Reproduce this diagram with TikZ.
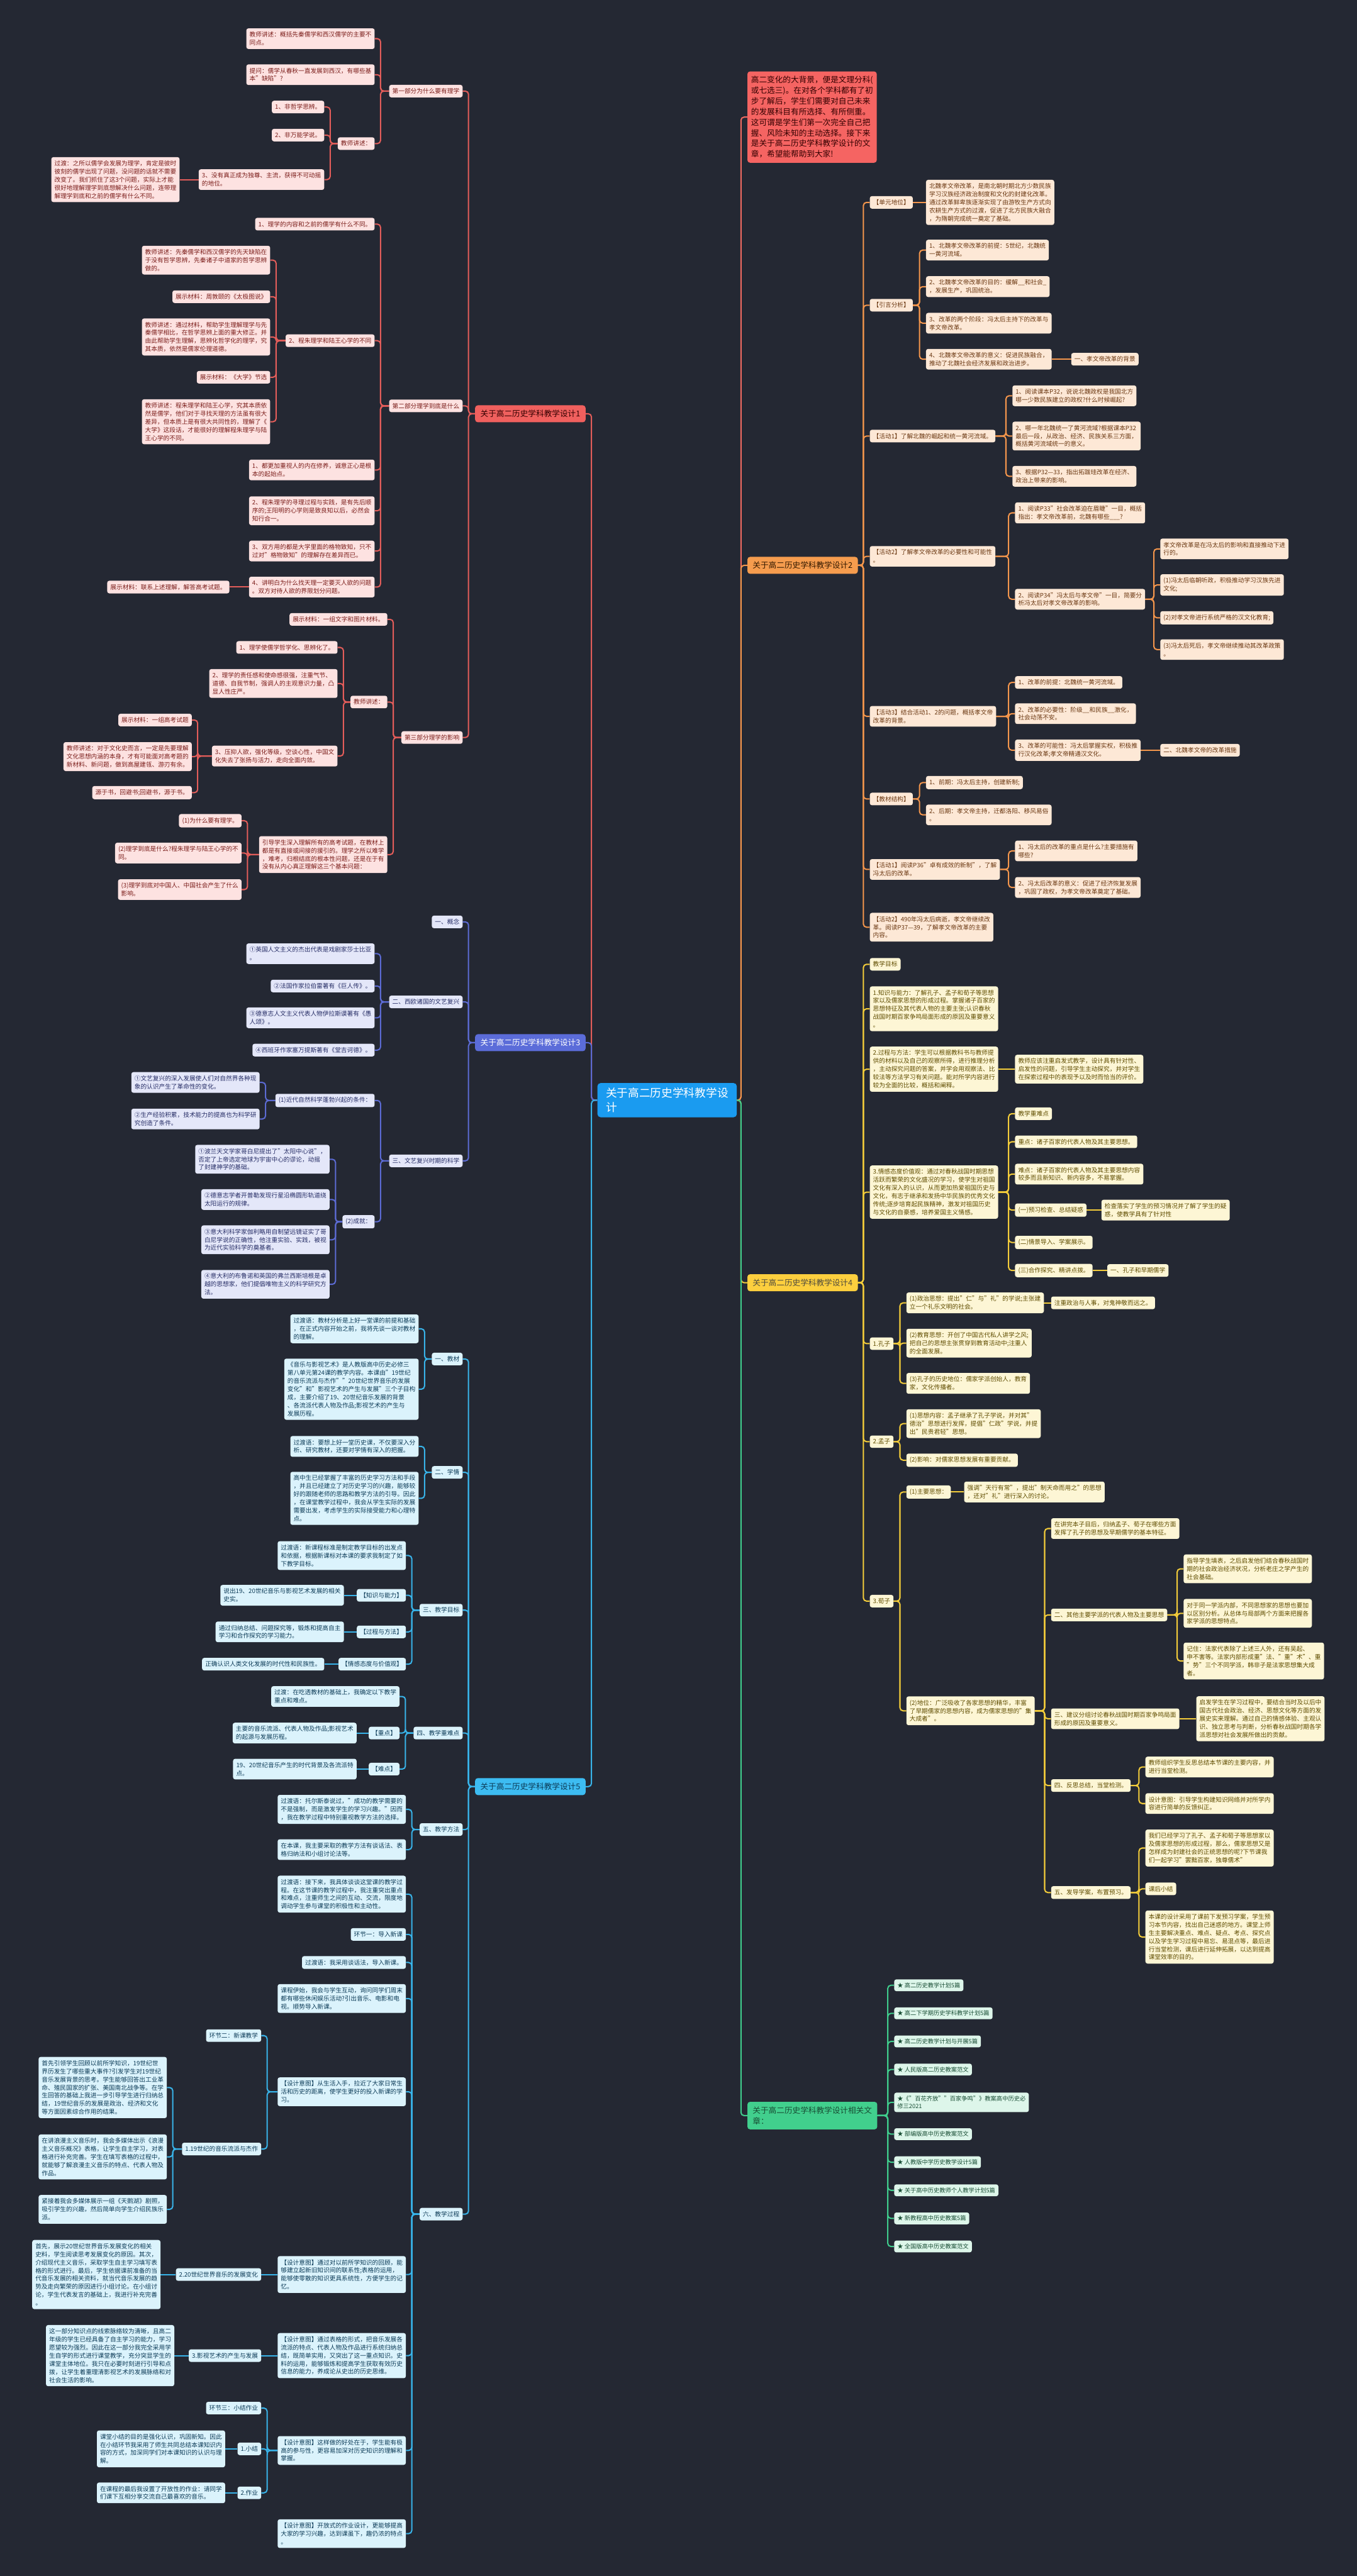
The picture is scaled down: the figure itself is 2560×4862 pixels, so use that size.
\documentclass[tikz,border=0pt]{standalone}
\usepackage{fontspec}
\setmainfont{Noto Sans CJK SC}
\usetikzlibrary{backgrounds}
\definecolor{bgc}{HTML}{242833}
\definecolor{rF}{HTML}{FDE2E1}\definecolor{rT}{HTML}{7B1D1A}\definecolor{rC}{HTML}{E35D5A}\definecolor{rM}{HTML}{F0605E}
\definecolor{pF}{HTML}{E4E7F9}\definecolor{pT}{HTML}{262D66}\definecolor{pC}{HTML}{5C6BD4}\definecolor{pM}{HTML}{5B6CD9}
\definecolor{bF}{HTML}{DBF3FC}\definecolor{bT}{HTML}{0C3B57}\definecolor{bC}{HTML}{38B4EA}\definecolor{bM}{HTML}{3DBCF2}
\definecolor{oF}{HTML}{FDE8D6}\definecolor{oT}{HTML}{6B3812}\definecolor{oC}{HTML}{F4964C}\definecolor{oM}{HTML}{F59C4E}
\definecolor{yF}{HTML}{FDF6D5}\definecolor{yT}{HTML}{5F4C00}\definecolor{yC}{HTML}{F4CD3A}\definecolor{yM}{HTML}{FCCF3E}
\definecolor{gF}{HTML}{DDF6EA}\definecolor{gT}{HTML}{184D34}\definecolor{gC}{HTML}{3FCC8C}\definecolor{gM}{HTML}{41CF8D}
\definecolor{iF}{HTML}{F56462}\definecolor{iC}{HTML}{EE6A62}
\definecolor{cF}{HTML}{1A9BF0}
\tikzset{
 bx/.style={rounded corners=4pt, inner xsep=6pt, inner ysep=6.5pt, align=left, font=\fontsize{11.5}{15.3}\selectfont},
 rb/.style={bx, fill=rF, text=rT},
 pb/.style={bx, fill=pF, text=pT},
 bb/.style={bx, fill=bF, text=bT},
 ob/.style={bx, fill=oF, text=oT},
 yb/.style={bx, fill=yF, text=yT},
 gb/.style={bx, fill=gF, text=gT, font=\fontsize{11}{14.5}\selectfont, inner ysep=6pt},
 mn/.style={rounded corners=5pt, inner xsep=10pt, inner ysep=9pt, align=left, font=\fontsize{15}{20}\selectfont},
 cen/.style={rounded corners=6pt, inner xsep=16pt, inner ysep=9pt, align=left, font=\fontsize{21}{27}\selectfont, fill=cF, text=white},
 ea/.style={anchor=east}, we/.style={anchor=west},
 cn/.style={line width=2.4pt, rounded corners=6pt},
 cr/.style={cn, draw=rC}, cp/.style={cn, draw=pC}, cb/.style={cn, draw=bC},
 co/.style={cn, draw=oC}, cy/.style={cn, draw=yC}, cg/.style={cn, draw=gC}, ci/.style={cn, draw=iC},
}
\newcommand\edL[3]{\draw[#1] (#3.east) -- ++(11,0) |- (#2.west);}
\newcommand\edR[3]{\draw[#1] (#3.west) -- ++(-12,0) |- (#2.east);}
\newcommand\edS[3]{\draw[#1] (#2) -- (#3);}
\begin{document}
\begin{tikzpicture}[x=1pt,y=-1pt]
\useasboundingbox (0,0) rectangle (2560,4862);
% center
\node[cen, anchor=north west] (C) at (1127,2044) {关于高二历史学科教学设\\计};
% main nodes
\node[mn, ea, fill=rM, text=black!80!red] (R0) at (1105,781) {关于高二历史学科教学设计1};
\node[mn, ea, fill=pM, text=white] (P0) at (1105,1968) {关于高二历史学科教学设计3};
\node[mn, ea, fill=bM, text=bT] (B0) at (1105,3372) {关于高二历史学科教学设计5};
\node[mn, we, fill=iF, text=black!80!red, inner xsep=7pt] (I0) at (1410,221) {高二变化的大背景，便是文理分科(\\或七选三)。在对各个学科都有了初\\步了解后，学生们需要对自己未来\\的发展科目有所选择、有所侧重。\\这可谓是学生们第一次完全自己把\\握、风险未知的主动选择。接下来\\是关于高二历史学科教学设计的文\\章，希望能帮助到大家!};
\node[mn, we, fill=oM, text=black!80!orange] (O0) at (1410,1067) {关于高二历史学科教学设计2};
\node[mn, we, fill=yM, text=black!80!yellow] (Y0) at (1410,2421) {关于高二历史学科教学设计4};
\node[mn, we, fill=gM, text=gT] (G0) at (1410,3993) {关于高二历史学科教学设计相关文\\章：};
% ===== red branch =====
\node[rb, ea] (R1) at (873,172) {第一部分为什么要有理学};
\node[rb, ea] (R2) at (873,766) {第二部分理学到底是什么};
\node[rb, ea] (R3) at (873,1392) {第三部分理学的影响};
\node[rb, ea] (R11) at (707,73) {教师讲述：概括先秦儒学和西汉儒学的主要不\\同点。};
\node[rb, ea] (R12) at (707,141) {提问：儒学从春秋一直发展到西汉，有哪些基\\本"缺陷"?};
\node[rb, ea] (R13) at (707,271) {教师讲述：};
\node[rb, ea] (R131) at (612,202) {1、非哲学思辨。};
\node[rb, ea] (R132) at (612,255) {2、非万能学说。};
\node[rb, ea] (R133) at (612,339) {3、没有真正成为独尊、主流，获得不可动摇\\的地位。};
\node[rb, ea] (R1331) at (339,339) {过渡：之所以儒学会发展为理学，肯定是彼时\\彼刻的儒学出现了问题，没问题的话就不需要\\改变了。我们抓住了这3个问题，实际上才能\\很好地理解理学到底想解决什么问题，连带理\\解理学到底和之前的儒学有什么不同。};
\node[rb, ea] (R21) at (707,423) {1、理学的内容和之前的儒学有什么不同。};
\node[rb, ea] (R22) at (707,643) {2、程朱理学和陆王心学的不同};
\node[rb, ea] (R221) at (510,491) {教师讲述：先秦儒学和西汉儒学的先天缺陷在\\于没有哲学思辨，先秦诸子中道家的哲学思辨\\做的。};
\node[rb, ea] (R222) at (510,560) {展示材料：周敦颐的《太极图说》};
\node[rb, ea] (R223) at (510,636) {教师讲述：通过材料，帮助学生理解理学与先\\秦儒学相比，在哲学思辨上面的重大修正。并\\由此帮助学生理解，思辨化哲学化的理学，究\\其本质，依然是儒家伦理道德。};
\node[rb, ea] (R224) at (510,712) {展示材料：《大学》节选};
\node[rb, ea] (R225) at (510,796) {教师讲述：程朱理学和陆王心学，究其本质依\\然是儒学，他们对于寻找天理的方法虽有很大\\差异，但本质上是有很大共同性的，理解了《\\大学》这段话，才能很好的理解程朱理学与陆\\王心学的不同。};
\node[rb, ea] (R23) at (707,887) {1、都更加重视人的内在修养，诚意正心是根\\本的起始点。};
\node[rb, ea] (R24) at (707,964) {2、程朱理学的寻理过程与实践，是有先后顺\\序的;王阳明的心学则是致良知以后，必然会\\知行合一。};
\node[rb, ea] (R25) at (707,1040) {3、双方用的都是大学里面的格物致知，只不\\过对"格物致知"的理解存在差异而已。};
\node[rb, ea] (R26) at (707,1108) {4、讲明白为什么找天理一定要灭人欲的问题\\。双方对待人欲的界限划分问题。};
\node[rb, ea] (R261) at (433,1108) {展示材料：联系上述理解，解答高考试题。};
\node[rb, ea] (R31) at (731,1169) {展示材料：一组文字和图片材料。};
\node[rb, ea] (R32) at (731,1325) {教师讲述：};
\node[rb, ea] (R321) at (637,1222) {1、理学使儒学哲学化、思辨化了。};
\node[rb, ea] (R322) at (637,1290) {2、理学的责任感和使命感很强，注重气节、\\道德、自我节制，强调人的主观意识力量，凸\\显人性庄严。};
\node[rb, ea] (R323) at (637,1427) {3、压抑人欲，强化等级，空谈心性，中国文\\化失去了张扬与活力，走向全面内敛。};
\node[rb, ea] (R3231) at (362,1359) {展示材料：一组高考试题};
\node[rb, ea] (R3232) at (362,1428) {教师讲述：对于文化史而言，一定是先要理解\\文化思想内涵的本身，才有可能面对高考题的\\新材料、新问题，做到高屋建瓴、游刃有余。};
\node[rb, ea] (R3233) at (362,1496) {源于书，回避书;回避书，源于书。};
\node[rb, ea] (R33) at (731,1613) {引导学生深入理解所有的高考试题，在教材上\\都是有直接或间接的援引的。理学之所以难学\\，难考，归根结底的根本性问题，还是在于有\\没有从内心真正理解这三个基本问题：};
\node[rb, ea] (R331) at (456,1549) {(1)为什么要有理学。};
\node[rb, ea] (R332) at (456,1610) {(2)理学到底是什么?程朱理学与陆王心学的不\\同。};
\node[rb, ea] (R333) at (456,1679) {(3)理学到底对中国人、中国社会产生了什么\\影响。};
% ===== purple branch =====
\node[pb, ea] (P1) at (873,1740) {一、概念};
\node[pb, ea] (P2) at (873,1891) {二、西欧诸国的文艺复兴};
\node[pb, ea] (P21) at (707,1800) {①英国人文主义的杰出代表是戏剧家莎士比亚\\。};
\node[pb, ea] (P22) at (707,1861) {②法国作家拉伯雷著有《巨人传》。};
\node[pb, ea] (P23) at (707,1921) {③德意志人文主义代表人物伊拉斯谟著有《愚\\人颂》。};
\node[pb, ea] (P24) at (707,1982) {④西班牙作家塞万提斯著有《堂吉诃德》。};
\node[pb, ea] (P3) at (873,2191) {三、文艺复兴时期的科学};
\node[pb, ea] (P31) at (707,2077) {(1)近代自然科学蓬勃兴起的条件：};
\node[pb, ea] (P311) at (490,2043) {①文艺复兴的深入发展使人们对自然界各种现\\象的认识产生了革命性的变化。};
\node[pb, ea] (P312) at (490,2112) {②生产经验积累，技术能力的提高也为科学研\\究创造了条件。};
\node[pb, ea] (P32) at (707,2306) {(2)成就：};
\node[pb, ea] (P321) at (622,2188) {①波兰天文学家哥白尼提出了"太阳中心说"，\\否定了上帝选定地球为宇宙中心的谬论，动摇\\了封建神学的基础。};
\node[pb, ea] (P322) at (622,2264) {②德意志学者开普勒发现行星沿椭圆形轨道绕\\太阳运行的规律。};
\node[pb, ea] (P323) at (622,2340) {③意大利科学家伽利略用自制望远镜证实了哥\\白尼学说的正确性，他注重实验、实践，被视\\为近代实验科学的奠基者。};
\node[pb, ea] (P324) at (622,2424) {④意大利的布鲁诺和英国的弗兰西斯培根是卓\\越的思想家，他们提倡唯物主义的科学研究方\\法。};
% ===== blue branch =====
\node[bb, ea] (B1) at (873,2565) {一、教材};
\node[bb, ea] (B11) at (790,2508) {过渡语：教材分析是上好一堂课的前提和基础\\，在正式内容开始之前，我将先谈一谈对教材\\的理解。};
\node[bb, ea] (B12) at (790,2622) {《音乐与影视艺术》是人教版高中历史必修三\\第八单元第24课的教学内容。本课由"19世纪\\的音乐流派与杰作""20世纪世界音乐的发展\\变化"和"影视艺术的产生与发展"三个子目构\\成，主要介绍了19、20世纪音乐发展的背景\\、各流派代表人物及作品;影视艺术的产生与\\发展历程。};
\node[bb, ea] (B2) at (873,2779) {二、学情};
\node[bb, ea] (B21) at (790,2730) {过渡语：要想上好一堂历史课，不仅要深入分\\析、研究教材，还要对学情有深入的把握。};
\node[bb, ea] (B22) at (790,2828) {高中生已经掌握了丰富的历史学习方法和手段\\，并且已经建立了对历史学习的兴趣，能够较\\好的跟随老师的思路和教学方法的引导。因此\\，在课堂教学过程中，我会从学生实际的发展\\需要出发，考虑学生的实际接受能力和心理特\\点。};
\node[bb, ea] (B3) at (873,3039) {三、教学目标};
\node[bb, ea] (B31) at (766,2936) {过渡语：新课程标准是制定教学目标的出发点\\和依据，根据新课标对本课的要求我制定了如\\下教学目标。};
\node[bb, ea] (B32) at (766,3011) {【知识与能力】};
\node[bb, ea] (B321) at (649,3011) {说出19、20世纪音乐与影视艺术发展的相关\\史实。};
\node[bb, ea] (B33) at (766,3080) {【过程与方法】};
\node[bb, ea] (B331) at (649,3080) {通过归纳总结、问题探究等，锻炼和提高自主\\学习和合作探究的学习能力。};
\node[bb, ea] (B34) at (766,3141) {【情感态度与价值观】};
\node[bb, ea] (B341) at (612,3141) {正确认识人类文化发展的时代性和民族性。};
\node[bb, ea] (B4) at (873,3271) {四、教学重难点};
\node[bb, ea] (B41) at (754,3202) {过渡：在吃透教材的基础上，我确定以下教学\\重点和难点。};
\node[bb, ea] (B42) at (754,3271) {【重点】};
\node[bb, ea] (B421) at (673,3271) {主要的音乐流派、代表人物及作品;影视艺术\\的起源与发展历程。};
\node[bb, ea] (B43) at (754,3339) {【难点】};
\node[bb, ea] (B431) at (673,3339) {19、20世纪音乐产生的时代背景及各流派特\\点。};
\node[bb, ea] (B5) at (873,3453) {五、教学方法};
\node[bb, ea] (B51) at (766,3415) {过渡语：托尔斯泰说过，"成功的教学需要的\\不是强制，而是激发学生的学习兴趣。"因而\\，我在教学过程中特别重视教学方法的选择。};
\node[bb, ea] (B52) at (766,3491) {在本课，我主要采取的教学方法有谈话法、表\\格归纳法和小组讨论法等。};
\node[bb, ea] (B6) at (873,4179) {六、教学过程};
\node[bb, ea] (B61) at (766,3575) {过渡语：接下来，我具体谈谈这堂课的教学过\\程。在这节课的教学过程中，我注重突出重点\\和难点，注重师生之间的互动、交流，限度地\\调动学生参与课堂的积极性和主动性。};
\node[bb, ea] (B62) at (766,3651) {环节一：导入新课};
\node[bb, ea] (B63) at (766,3704) {过渡语：我采用谈话法，导入新课。};
\node[bb, ea] (B64) at (766,3772) {课程伊始，我会与学生互动，询问同学们周末\\都有哪些休闲娱乐活动?引出音乐、电影和电\\视。顺势导入新课。};
\node[bb, ea] (B65) at (766,3948) {【设计意图】从生活入手，拉近了大家日常生\\活和历史的距离，使学生更好的投入新课的学\\习。};
\node[bb, ea] (B651) at (493,3842) {环节二：新课教学};
\node[bb, ea] (B652) at (493,4056) {1.19世纪的音乐流派与杰作};
\node[bb, ea] (B6521) at (315,3940) {首先引领学生回顾以前所学知识，19世纪世\\界历发生了哪些重大事件?引发学生对19世纪\\音乐发展背景的思考。学生能够回答出工业革\\命、殖民国家的扩张、美国南北战争等。在学\\生回答的基础上我进一步引导学生进行归纳总\\结，19世纪音乐的发展是政治、经济和文化\\等方面因素综合作用的结果。};
\node[bb, ea] (B6522) at (315,4071) {在讲浪漫主义音乐时，我会多媒体出示《浪漫\\主义音乐概况》表格，让学生自主学习，对表\\格进行补充完善。学生在填写表格的过程中，\\就能够了解浪漫主义音乐的特点、代表人物及\\作品。};
\node[bb, ea] (B6523) at (315,4170) {紧接着我会多媒体展示一组《天鹅湖》剧照，\\吸引学生的兴趣，然后简单向学生介绍民族乐\\派。};
\node[bb, ea] (B66) at (766,4293) {【设计意图】通过对以前所学知识的回顾，能\\够建立起新旧知识间的联系性;表格的运用，\\能够使零散的知识更具系统性，方便学生的记\\忆。};
\node[bb, ea] (B661) at (493,4293) {2.20世纪世界音乐的发展变化};
\node[bb, ea] (B6611) at (303,4293) {首先，展示20世纪世界音乐发展变化的相关\\史料，学生阅读思考发展变化的原因。其次，\\介绍现代主义音乐，采取学生自主学习填写表\\格的形式进行。最后，学生依据课前准备的当\\代音乐发展的相关资料，就当代音乐发展的趋\\势及走向繁荣的原因进行小组讨论。在小组讨\\论，学生代表发言的基础上，我进行补充完善\\。};
\node[bb, ea] (B67) at (766,4446) {【设计意图】通过表格的形式，把音乐发展各\\流派的特点、代表人物及作品进行系统归纳总\\结，既简单实用，又突出了这一重点知识。史\\料的运用，能够锻炼和提高学生获取有效历史\\信息的能力，养成论从史出的历史思维。};
\node[bb, ea] (B671) at (493,4446) {3.影视艺术的产生与发展};
\node[bb, ea] (B6711) at (329,4446) {这一部分知识点的线索脉络较为清晰，且高二\\年级的学生已经具备了自主学习的能力，学习\\愿望较为强烈。因此在这一部分我完全采用学\\生自学的形式进行课堂教学，充分突显学生的\\课堂主体地位。我只在必要时刻进行引导和点\\拨，让学生着重理清影视艺术的发展脉络和对\\社会生活的影响。};
\node[bb, ea] (B68) at (766,4625) {【设计意图】这样做的好处在于，学生能有极\\高的参与性，更容易加深对历史知识的理解和\\掌握。};
\node[bb, ea] (B681) at (493,4545) {环节三：小结作业};
\node[bb, ea] (B682) at (493,4622) {1.小结};
\node[bb, ea] (B6821) at (425,4622) {课堂小结的目的是强化认识，巩固新知。因此\\在小结环节我采用了师生共同总结本课知识内\\容的方式，加深同学们对本课知识的认识与理\\解。};
\node[bb, ea] (B683) at (493,4705) {2.作业};
\node[bb, ea] (B6831) at (425,4705) {在课程的最后我设置了开放性的作业：请同学\\们课下互相分享交流自己最喜欢的音乐。};
\node[bb, ea] (B69) at (766,4782) {【设计意图】开放式的作业设计，更能够提高\\大家的学习兴趣，达到课虽下，趣仍浓的特点\\。};
% ===== orange branch =====
\node[ob, we] (O1) at (1641,382) {【单元地位】};
\node[ob, we] (O11) at (1747,382) {北魏孝文帝改革，是南北朝时期北方少数民族\\学习汉族经济政治制度和文化的封建化改革。\\通过改革鲜卑族逐渐实现了由游牧生产方式向\\农耕生产方式的过渡，促进了北方民族大融合\\，为隋朝完成统一奠定了基础。};
\node[ob, we] (O2) at (1641,576) {【引言分析】};
\node[ob, we] (O21) at (1747,472) {1、北魏孝文帝改革的前提：5世纪，北魏统\\一黄河流域。};
\node[ob, we] (O22) at (1747,541) {2、北魏孝文帝改革的目的：缓解\_\_和社会\_\\，发展生产，巩固统治。};
\node[ob, we] (O23) at (1747,610) {3、改革的两个阶段：冯太后主持下的改革与\\孝文帝改革。};
\node[ob, we] (O24) at (1747,678) {4、北魏孝文帝改革的意义：促进民族融合，\\推动了北魏社会经济发展和政治进步。};
\node[ob, we] (O241) at (2021,678) {一、孝文帝改革的背景};
\node[ob, we] (O3) at (1641,823) {【活动1】了解北魏的崛起和统一黄河流域。};
\node[ob, we] (O31) at (1910,747) {1、阅读课本P32，说说北魏政权是我国北方\\哪一少数民族建立的政权?什么时候崛起?};
\node[ob, we] (O32) at (1910,823) {2、哪一年北魏统一了黄河流域?根据课本P32\\最后一段，从政治、经济、民族关系三方面，\\概括黄河流域统一的意义。};
\node[ob, we] (O33) at (1910,899) {3、根据P32—33，指出拓跋珪改革在经济、\\政治上带来的影响。};
\node[ob, we] (O4) at (1641,1050) {【活动2】了解孝文帝改革的必要性和可能性\\。};
\node[ob, we] (O41) at (1915,968) {1、阅读P33"社会改革迫在眉睫"一目，概括\\指出：孝文帝改革前，北魏有哪些\_\_\_?};
\node[ob, we] (O42) at (1915,1131) {2、阅读P34"冯太后与孝文帝"一目，简要分\\析冯太后对孝文帝改革的影响。};
\node[ob, we] (O421) at (2189,1036) {孝文帝改革是在冯太后的影响和直接推动下进\\行的。};
\node[ob, we] (O422) at (2189,1104) {(1)冯太后临朝听政，积极推动学习汉族先进\\文化;};
\node[ob, we] (O423) at (2189,1166) {(2)对孝文帝进行系统严格的汉文化教育;};
\node[ob, we] (O424) at (2189,1226) {(3)冯太后死后，孝文帝继续推动其改革政策\\。};
\node[ob, we] (O5) at (1641,1352) {【活动3】结合活动1、2的问题，概括孝文帝\\改革的背景。};
\node[ob, we] (O51) at (1915,1288) {1、改革的前提：北魏统一黄河流域。};
\node[ob, we] (O52) at (1915,1347) {2、改革的必要性：阶级\_\_和民族\_\_激化，\\社会动荡不安。};
\node[ob, we] (O53) at (1915,1416) {3、改革的可能性：冯太后掌握实权，积极推\\行汉化改革;孝文帝精通汉文化。};
\node[ob, we] (O531) at (2189,1416) {二、北魏孝文帝的改革措施};
\node[ob, we] (O6) at (1641,1508) {【教材结构】};
\node[ob, we] (O61) at (1747,1477) {1、前期：冯太后主持，创建新制;};
\node[ob, we] (O62) at (1747,1538) {2、后期：孝文帝主持，迁都洛阳、移风易俗\\。};
\node[ob, we] (O7) at (1641,1641) {【活动1】阅读P36"卓有成效的新制"，了解\\冯太后的改革。};
\node[ob, we] (O71) at (1915,1606) {1、冯太后的改革的重点是什么?主要措施有\\哪些?};
\node[ob, we] (O72) at (1915,1675) {2、冯太后改革的意义：促进了经济恢复发展\\，巩固了政权，为孝文帝改革奠定了基础。};
\node[ob, we] (O8) at (1641,1750) {【活动2】490年冯太后病逝，孝文帝继续改\\革。阅读P37—39，了解孝文帝改革的主要\\内容。};
% ===== yellow branch =====
\node[yb, we] (Y1) at (1641,1820) {教学目标};
\node[yb, we] (Y2) at (1641,1904) {1.知识与能力：了解孔子、孟子和荀子等思想\\家以及儒家思想的形成过程。掌握诸子百家的\\思想特征及其代表人物的主要主张;认识春秋\\战国时期百家争鸣局面形成的原因及重要意义\\。};
\node[yb, we] (Y3) at (1641,2018) {2.过程与方法：学生可以根据教科书与教师提\\供的材料以及自己的观察所得，进行推理分析\\，主动探究问题的答案，并学会用观察法、比\\较法等方法学习有关问题。能对所学内容进行\\较为全面的比较，概括和阐释。};
\node[yb, we] (Y31) at (1915,2018) {教师应该注重启发式教学，设计具有针对性、\\启发性的问题，引导学生主动探究，并对学生\\在探索过程中的表现予以及时而恰当的评价。};
\node[yb, we] (Y4) at (1641,2250) {3.情感态度价值观：通过对春秋战国时期思想\\活跃而繁荣的文化盛况的学习，使学生对祖国\\文化有深入的认识，从而更加热爱祖国历史与\\文化，有志于继承和发扬中华民族的优秀文化\\传统;逐步培育起民族精神，激发对祖国历史\\与文化的自豪感，培养爱国主义情感。};
\node[yb, we] (Y41) at (1915,2102) {教学重难点};
\node[yb, we] (Y42) at (1915,2155) {重点：诸子百家的代表人物及其主要思想。};
\node[yb, we] (Y43) at (1915,2216) {难点：诸子百家的代表人物及其主要思想内容\\较多而且新知识、新内容多，不易掌握。};
\node[yb, we] (Y44) at (1915,2284) {(一)预习检查、总结疑惑};
\node[yb, we] (Y441) at (2078,2284) {检查落实了学生的预习情况并了解了学生的疑\\惑，使教学具有了针对性};
\node[yb, we] (Y45) at (1915,2345) {(二)情景导入、学案展示。};
\node[yb, we] (Y46) at (1915,2398) {(三)合作探究、精讲点拨。};
\node[yb, we] (Y461) at (2089,2398) {一、孔子和早期儒学};
\node[yb, we] (Y5) at (1641,2536) {1.孔子};
\node[yb, we] (Y51) at (1710,2459) {(1)政治思想：提出"仁"与"礼"的学说;主张建\\立一个礼乐文明的社会。};
\node[yb, we] (Y511) at (1983,2459) {注重政治与人事，对鬼神敬而远之。};
\node[yb, we] (Y52) at (1710,2535) {(2)教育思想：开创了中国古代私人讲学之风;\\把自己的思想主张贯穿到教育活动中;注重人\\的全面发展。};
\node[yb, we] (Y53) at (1710,2611) {(3)孔子的历史地位：儒家学派创始人，教育\\家，文化传播者。};
\node[yb, we] (Y6) at (1641,2721) {2.孟子};
\node[yb, we] (Y61) at (1710,2687) {(1)思想内容：孟子继承了孔子学说，并对其"\\德治"思想进行发挥，提倡"仁政"学说，并提\\出"民贵君轻"思想。};
\node[yb, we] (Y62) at (1710,2756) {(2)影响：对儒家思想发展有重要贡献。};
\node[yb, we] (Y7) at (1641,3022) {3.荀子};
\node[yb, we] (Y71) at (1710,2816) {(1)主要思想：};
\node[yb, we] (Y711) at (1819,2816) {强调"天行有常"，提出"制天命而用之"的思想\\，还对"礼"进行深入的讨论。};
\node[yb, we] (Y72) at (1710,3229) {(2)地位：广泛吸收了各家思想的精华，丰富\\了早期儒家的思想内容，成为儒家思想的"集\\大成者"。};
\node[yb, we] (Y721) at (1983,2885) {在讲完本子目后，归纳孟子、荀子在哪些方面\\发挥了孔子的思想及早期儒学的基本特征。};
\node[yb, we] (Y722) at (1983,3048) {二、其他主要学派的代表人物及主要思想};
\node[yb, we] (Y7221) at (2233,2961) {指导学生填表，之后启发他们结合春秋战国时\\期的社会政治经济状况，分析老庄之学产生的\\社会基础。};
\node[yb, we] (Y7222) at (2233,3045) {对于同一学派内部，不同思想家的思想也要加\\以区别分析。从总体与局部两个方面来把握各\\家学派的思想特点。};
\node[yb, we] (Y7223) at (2233,3135) {记住：法家代表除了上述三人外，还有吴起、\\申不害等。法家内部形成重"法、"重"术"、重\\"势"三个不同学派，韩非子是法家思想集大成\\者。};
\node[yb, we] (Y723) at (1983,3244) {三、建议分组讨论春秋战国时期百家争鸣局面\\形成的原因及重要意义。};
\node[yb, we] (Y7231) at (2257,3244) {启发学生在学习过程中，要结合当时及以后中\\国古代社会政治、经济、思想文化等方面的发\\展史实来理解。通过自己的情感体验、主观认\\识、独立思考与判断，分析春秋战国时期各学\\派思想对社会发展所做出的贡献。};
\node[yb, we] (Y724) at (1983,3370) {四、反思总结，当堂检测。};
\node[yb, we] (Y7241) at (2161,3335) {教师组织学生反思总结本节课的主要内容，并\\进行当堂检测。};
\node[yb, we] (Y7242) at (2161,3404) {设计意图：引导学生构建知识网络并对所学内\\容进行简单的反馈纠正。};
\node[yb, we] (Y725) at (1983,3572) {五、发导学案，布置预习。};
\node[yb, we] (Y7251) at (2161,3488) {我们已经学习了孔子、孟子和荀子等思想家以\\及儒家思想的形成过程，那么，儒家思想又是\\怎样成为封建社会的正统思想的呢?下节课我\\们一起学习"罢黜百家，独尊儒术"};
\node[yb, we] (Y7252) at (2161,3565) {课后小结};
\node[yb, we] (Y7253) at (2161,3656) {本课的设计采用了课前下发预习学案，学生预\\习本节内容，找出自己迷惑的地方。课堂上师\\生主要解决重点、难点、疑点、考点、探究点\\以及学生学习过程中易忘、易混点等，最后进\\行当堂检测，课后进行延伸拓展，以达到提高\\课堂效率的目的。};
% ===== green branch =====
\node[gb, we] (G1) at (1687,3747) {★ 高二历史教学计划5篇};
\node[gb, we] (G2) at (1687,3800) {★ 高二下学期历史学科教学计划5篇};
\node[gb, we] (G3) at (1687,3853) {★ 高二历史教学计划与开展5篇};
\node[gb, we] (G4) at (1687,3906) {★ 人民版高二历史教案范文};
\node[gb, we] (G5) at (1687,3968) {★《"百花齐放""百家争鸣"》教案高中历史必\\修三2021};
\node[gb, we] (G6) at (1687,4028) {★ 部编版高中历史教案范文};
\node[gb, we] (G7) at (1687,4081) {★ 人教版中学历史教学设计5篇};
\node[gb, we] (G8) at (1687,4134) {★ 关于高中历史教师个人教学计划5篇};
\node[gb, we] (G9) at (1687,4187) {★ 新教程高中历史教案5篇};
\node[gb, we] (G10) at (1687,4240) {★ 全国版高中历史教案范文};
% ===== connectors =====
\begin{scope}[on background layer]
\fill[bgc] (0,0) rectangle (2560,4862);
\edL{cr}{C}{R0}\edL{cp}{C}{P0}\edL{cb}{C}{B0}
\edR{ci}{C}{I0}\edR{co}{C}{O0}\edR{cy}{C}{Y0}\edR{cg}{C}{G0}
% red
\edL{cr}{R0}{R1}\edL{cr}{R0}{R2}\edL{cr}{R0}{R3}
\edL{cr}{R1}{R11}\edL{cr}{R1}{R12}\edL{cr}{R1}{R13}
\edL{cr}{R13}{R131}\edL{cr}{R13}{R132}\edL{cr}{R13}{R133}
\edS{cr}{R133}{R1331}
\edL{cr}{R2}{R21}\edL{cr}{R2}{R22}\edL{cr}{R2}{R23}\edL{cr}{R2}{R24}\edL{cr}{R2}{R25}\edL{cr}{R2}{R26}
\edL{cr}{R22}{R221}\edL{cr}{R22}{R222}\edL{cr}{R22}{R223}\edL{cr}{R22}{R224}\edL{cr}{R22}{R225}
\edS{cr}{R26}{R261}
\edL{cr}{R3}{R31}\edL{cr}{R3}{R32}\edL{cr}{R3}{R33}
\edL{cr}{R32}{R321}\edL{cr}{R32}{R322}\edL{cr}{R32}{R323}
\edL{cr}{R323}{R3231}\edL{cr}{R323}{R3232}\edL{cr}{R323}{R3233}
\edL{cr}{R33}{R331}\edL{cr}{R33}{R332}\edL{cr}{R33}{R333}
% purple
\edL{cp}{P0}{P1}\edL{cp}{P0}{P2}\edL{cp}{P0}{P3}
\edL{cp}{P2}{P21}\edL{cp}{P2}{P22}\edL{cp}{P2}{P23}\edL{cp}{P2}{P24}
\edL{cp}{P3}{P31}\edL{cp}{P3}{P32}
\edL{cp}{P31}{P311}\edL{cp}{P31}{P312}
\edL{cp}{P32}{P321}\edL{cp}{P32}{P322}\edL{cp}{P32}{P323}\edL{cp}{P32}{P324}
% blue
\edL{cb}{B0}{B1}\edL{cb}{B0}{B2}\edL{cb}{B0}{B3}\edL{cb}{B0}{B4}\edL{cb}{B0}{B5}\edL{cb}{B0}{B6}
\edL{cb}{B1}{B11}\edL{cb}{B1}{B12}
\edL{cb}{B2}{B21}\edL{cb}{B2}{B22}
\edL{cb}{B3}{B31}\edL{cb}{B3}{B32}\edL{cb}{B3}{B33}\edL{cb}{B3}{B34}
\edS{cb}{B32}{B321}\edS{cb}{B33}{B331}\edS{cb}{B34}{B341}
\edL{cb}{B4}{B41}\edL{cb}{B4}{B42}\edL{cb}{B4}{B43}
\edS{cb}{B42}{B421}\edS{cb}{B43}{B431}
\edL{cb}{B5}{B51}\edL{cb}{B5}{B52}
\edL{cb}{B6}{B61}\edL{cb}{B6}{B62}\edL{cb}{B6}{B63}\edL{cb}{B6}{B64}\edL{cb}{B6}{B65}\edL{cb}{B6}{B66}\edL{cb}{B6}{B67}\edL{cb}{B6}{B68}\edL{cb}{B6}{B69}
\edL{cb}{B65}{B651}\edL{cb}{B65}{B652}
\edL{cb}{B652}{B6521}\edL{cb}{B652}{B6522}\edL{cb}{B652}{B6523}
\edS{cb}{B66}{B661}\edS{cb}{B661}{B6611}
\edS{cb}{B67}{B671}\edS{cb}{B671}{B6711}
\edL{cb}{B68}{B681}\edL{cb}{B68}{B682}\edL{cb}{B68}{B683}
\edS{cb}{B682}{B6821}\edS{cb}{B683}{B6831}
% orange
\edR{co}{O0}{O1}\edR{co}{O0}{O2}\edR{co}{O0}{O3}\edR{co}{O0}{O4}\edR{co}{O0}{O5}\edR{co}{O0}{O6}\edR{co}{O0}{O7}\edR{co}{O0}{O8}
\edS{co}{O1}{O11}
\edR{co}{O2}{O21}\edR{co}{O2}{O22}\edR{co}{O2}{O23}\edR{co}{O2}{O24}
\edS{co}{O24}{O241}
\edR{co}{O3}{O31}\edR{co}{O3}{O32}\edR{co}{O3}{O33}
\edR{co}{O4}{O41}\edR{co}{O4}{O42}
\edR{co}{O42}{O421}\edR{co}{O42}{O422}\edR{co}{O42}{O423}\edR{co}{O42}{O424}
\edR{co}{O5}{O51}\edR{co}{O5}{O52}\edR{co}{O5}{O53}
\edS{co}{O53}{O531}
\edR{co}{O6}{O61}\edR{co}{O6}{O62}
\edR{co}{O7}{O71}\edR{co}{O7}{O72}
% yellow
\edR{cy}{Y0}{Y1}\edR{cy}{Y0}{Y2}\edR{cy}{Y0}{Y3}\edR{cy}{Y0}{Y4}\edR{cy}{Y0}{Y5}\edR{cy}{Y0}{Y6}\edR{cy}{Y0}{Y7}
\edS{cy}{Y3}{Y31}
\edR{cy}{Y4}{Y41}\edR{cy}{Y4}{Y42}\edR{cy}{Y4}{Y43}\edR{cy}{Y4}{Y44}\edR{cy}{Y4}{Y45}\edR{cy}{Y4}{Y46}
\edS{cy}{Y44}{Y441}\edS{cy}{Y46}{Y461}
\edR{cy}{Y5}{Y51}\edR{cy}{Y5}{Y52}\edR{cy}{Y5}{Y53}
\edS{cy}{Y51}{Y511}
\edR{cy}{Y6}{Y61}\edR{cy}{Y6}{Y62}
\edR{cy}{Y7}{Y71}\edR{cy}{Y7}{Y72}
\edS{cy}{Y71}{Y711}
\edR{cy}{Y72}{Y721}\edR{cy}{Y72}{Y722}\edR{cy}{Y72}{Y723}\edR{cy}{Y72}{Y724}\edR{cy}{Y72}{Y725}
\edR{cy}{Y722}{Y7221}\edR{cy}{Y722}{Y7222}\edR{cy}{Y722}{Y7223}
\edS{cy}{Y723}{Y7231}
\edR{cy}{Y724}{Y7241}\edR{cy}{Y724}{Y7242}
\edR{cy}{Y725}{Y7251}\edR{cy}{Y725}{Y7252}\edR{cy}{Y725}{Y7253}
% green
\edR{cg}{G0}{G1}\edR{cg}{G0}{G2}\edR{cg}{G0}{G3}\edR{cg}{G0}{G4}\edR{cg}{G0}{G5}
\edR{cg}{G0}{G6}\edR{cg}{G0}{G7}\edR{cg}{G0}{G8}\edR{cg}{G0}{G9}\edR{cg}{G0}{G10}
\end{scope}
\end{tikzpicture}
\end{document}
